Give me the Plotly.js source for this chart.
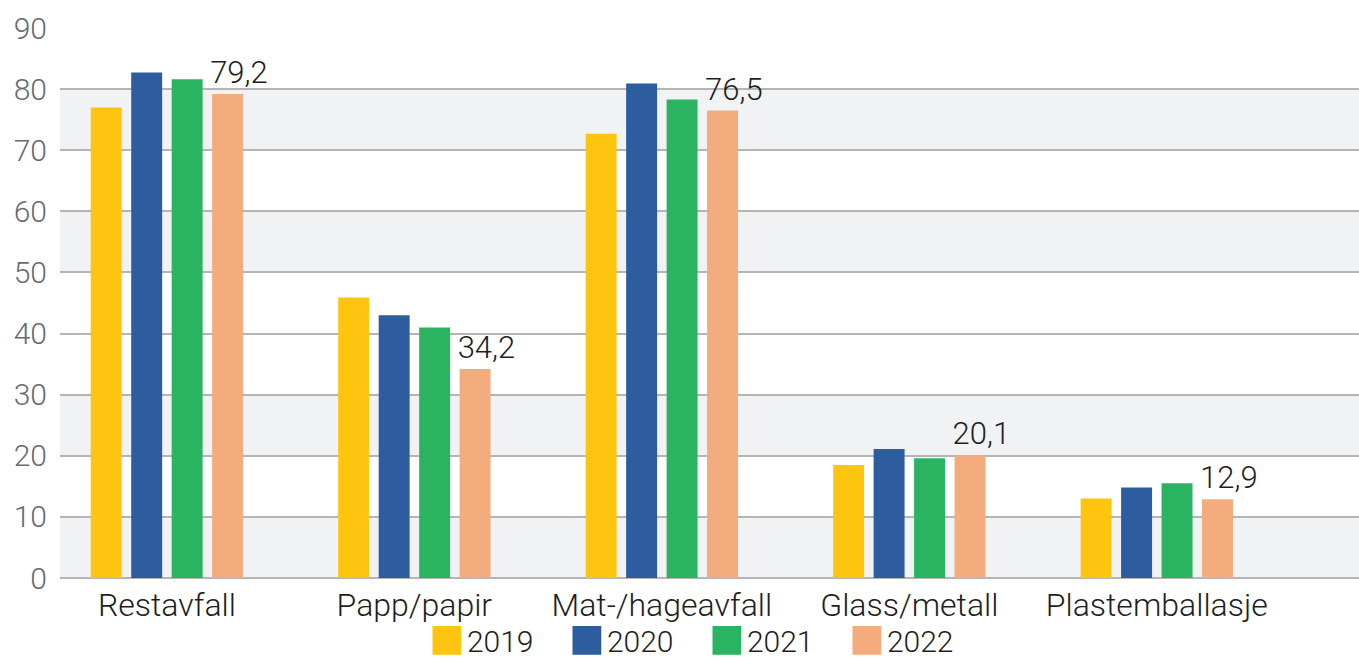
<!DOCTYPE html>
<html>
<head>
<meta charset="utf-8">
<script src="https://cdn.plot.ly/plotly-3.0.1.min.js"></script>
<style>html,body{margin:0;padding:0;background:#fff;}#chart{width:1359px;height:662px;}</style>
</head>
<body>
<div id="chart"></div>
<script>
const categories = ["Restavfall", "Papp/papir", "Mat-/hageavfall", "Glass/metall", "Plastemballasje"];
const years = ["2019", "2020", "2021", "2022"];
const values2019 = [77.0, 45.9, 72.7, 18.5, 13.0];
const values2020 = [82.7, 43.0, 80.9, 21.1, 14.8];
const values2021 = [81.6, 41.0, 78.3, 19.6, 15.5];
const values2022 = [79.2, 34.2, 76.5, 20.1, 12.9];
const yTicks = [0, 10, 20, 30, 40, 50, 60, 70, 80, 90];
const bandRanges = [[0, 10], [20, 30], [50, 60], [70, 80]];

const colors = ["#fdc50f", "#2d5d9f", "#2ab462", "#f4ab7e"];
const series = [values2019, values2020, values2021, values2022];
const FONT = "Roboto, 'Open Sans', sans-serif";

const traces = series.map((vals, i) => {
  const t = {
    type: "bar",
    name: years[i],
    x: categories,
    y: vals,
    marker: {color: colors[i], line: {width: 0}},
    hoverinfo: "x+y+name"
  };
  if (i === 3) {
    t.texttemplate = "\u00a0\u00a0\u00a0%{y:.1f}";
    t.textposition = "outside";
    t.constraintext = "none";
    t.cliponaxis = false;
    t.textfont = {family: FONT, size: 31, color: "#1e1e1e", weight: 300};
  }
  return t;
});

const shapes = bandRanges.map(r => ({
  type: "rect", xref: "paper", yref: "y", x0: 0, x1: 1, y0: r[0], y1: r[1],
  fillcolor: "#f1f2f4", line: {width: 0}, layer: "below"
}));

const layout = {
  width: 1359, height: 662,
  margin: {l: 60, r: 0, t: 28, b: 84, pad: 0, autoexpand: false},
  paper_bgcolor: "#ffffff", plot_bgcolor: "#ffffff",
  separators: ", ",
  barmode: "group",
  bargap: 0.346,
  bargroupgap: 0.235,
  font: {family: FONT, size: 28, color: "#1e1e1e"},
  showlegend: true,
  legend: {
    orientation: "h", x: 0.498, xanchor: "center", y: -0.066, yanchor: "top",
    font: {family: FONT, size: 30, color: "#1e1e1e", weight: 300},
    traceorder: "normal", entrywidth: 95, entrywidthmode: "pixels",
    bgcolor: "rgba(0,0,0,0)", borderwidth: 0
  },
  xaxis: {
    type: "category",
    range: [-0.432, 4.817],
    showgrid: false, zeroline: false, showline: false, ticks: "",
    tickfont: {family: FONT, size: 32, color: "#1e1e1e", weight: 300},
    ticklabelstandoff: 5,
    fixedrange: true
  },
  yaxis: {
    range: [0, 90],
    tickvals: yTicks,
    ticktext: yTicks.map(String),
    showgrid: true, gridcolor: "#b5b5b5", gridwidth: 2,
    zeroline: true, zerolinecolor: "#b5b5b5", zerolinewidth: 2,
    showline: false, ticks: "",
    tickfont: {family: FONT, size: 30, color: "#656b75", weight: 300},
    ticklabelstandoff: 12,
    fixedrange: true
  },
  shapes: shapes
};

Plotly.newPlot("chart", traces, layout, {displayModeBar: false, staticPlot: true}).then(() => {
  document.querySelectorAll(".legend .legendpoints path").forEach(p => {
    const tr = p.getAttribute("transform") || "";
    p.setAttribute("transform", tr + " scale(2.4)");
  });
});
</script>
</body>
</html>
